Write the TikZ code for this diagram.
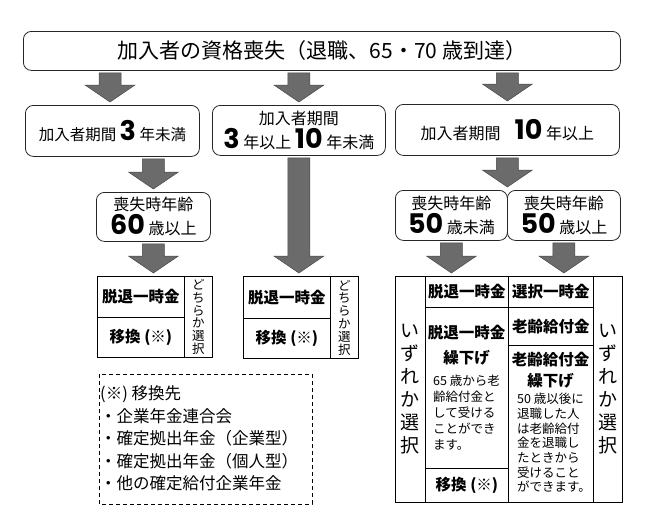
\documentclass[tikz,border=0pt]{standalone}
\usepackage{fontspec}
\setmainfont{Noto Sans CJK JP}
\newfontfamily\numfont{Poppins}
\usetikzlibrary{calc}
\newcommand\fs[2]{\fontsize{#1}{#2}\selectfont}
\newcommand\num[1]{{\numfont\bfseries\fs{27}{27}#1}}
\tikzset{
  rbox/.style={draw=black!85, line width=0.8pt, rounded corners=8pt, inner sep=0pt, anchor=north west, align=center},
  cell/.style={draw=black, line width=0.9pt, inner sep=0pt, anchor=north west, align=center},
  arrowfill/.style={fill=black!58, draw=black!72, line width=0.5pt},
  lbl/.style={inner sep=0pt, font=\bfseries\fs{15.5}{18}},
  small/.style={inner sep=0pt, align=left, anchor=west},
  vert/.style={inner sep=0pt, align=center},
}
\newcommand\fatarrow[2]{%
  \filldraw[arrowfill] let \p1=#1, \p2=#2 in
    (\x2-11pt,\y1-2pt) -- (\x2+11pt,\y1-2pt) -- (\x2+11pt,\y2+20pt) -- (\x2+25pt,\y2+20pt)
    -- (\x2,\y2+3pt) -- (\x2-25pt,\y2+20pt) -- (\x2-11pt,\y2+20pt) -- cycle;}
\begin{document}
\begin{tikzpicture}[x=1pt, y=-1pt]
\useasboundingbox (0,0) rectangle (650,528);

% top box
\node[rbox, minimum width=597pt, minimum height=39pt, font=\fs{21}{22}] (top) at (23,31)
  {加入者の資格喪失（退職、65・70 歳到達）};

% second row
\node[rbox, minimum width=174pt, minimum height=51pt, font=\fs{15.5}{18}] (A) at (25,105)
  {加入者期間 \num{3} 年未満};
\node[rbox, minimum width=173pt, minimum height=50pt, font=\fs{16}{24}] (B) at (212,105)
  {加入者期間\\\num{3} 年以上 \num{10} 年未満};
\node[rbox, minimum width=224pt, minimum height=51pt, font=\fs{16}{18}] (C) at (395,104)
  {加入者期間\hspace{14pt}\num{10} 年以上};

% third row
\node[rbox, minimum width=114pt, minimum height=49pt, font=\fs{16}{24}] (S60) at (96,192)
  {喪失時年齢\\\num{60} 歳以上};
\node[rbox, minimum width=112pt, minimum height=50pt, font=\fs{16}{24}] (S50a) at (395,190)
  {喪失時年齢\\\num{50} 歳未満};
\node[rbox, minimum width=113pt, minimum height=50pt, font=\fs{16}{24}] (S50b) at (507,190)
  {喪失時年齢\\\num{50} 歳以上};

% table 1
\node[cell, minimum width=87pt, minimum height=41pt, font=\bfseries\fs{15.5}{18}] (t1a) at (97,276) {脱退一時金};
\node[cell, minimum width=87pt, minimum height=40pt, font=\bfseries\fs{15.5}{18}] (t1b) at (97,317) {移換 (※)};
\node[cell, minimum width=28pt, minimum height=81pt] (t1v) at (184,276) {};
\node[vert, font=\fs{12.5}{12.8}] at (t1v.center) {ど\\ち\\ら\\か\\選\\択};

% table 2
\node[cell, minimum width=87pt, minimum height=42pt, font=\bfseries\fs{15.5}{18}] (t2a) at (243,276) {脱退一時金};
\node[cell, minimum width=87pt, minimum height=40pt, font=\bfseries\fs{15.5}{18}] (t2b) at (243,318) {移換 (※)};
\node[cell, minimum width=28pt, minimum height=82pt] (t2v) at (330,276) {};
\node[vert, font=\fs{12.5}{12.8}] at (t2v.center) {ど\\ち\\ら\\か\\選\\択};

% right table
\node[cell, minimum width=30pt, minimum height=226pt] (rL) at (395,276) {};
\node[cell, minimum width=29pt, minimum height=226pt] (rR) at (593,276) {};
\node[vert, font=\fs{19}{23}] at (rL.center) {い\\ず\\れ\\か\\選\\択};
\node[vert, font=\fs{19}{23}] at (rR.center) {い\\ず\\れ\\か\\選\\択};
\node[cell, minimum width=83pt, minimum height=31pt, font=\bfseries\fs{15.5}{18}] (c1) at (425,276) {脱退一時金};
\node[cell, minimum width=85pt, minimum height=31pt, font=\bfseries\fs{15.5}{18}] (c2) at (508,276) {選択一時金};
\node[cell, minimum width=83pt, minimum height=161pt] (c3) at (425,307) {};
\node[cell, minimum width=83pt, minimum height=34pt, font=\bfseries\fs{15.5}{18}] (c4) at (425,468) {移換 (※)};
\node[cell, minimum width=85pt, minimum height=38pt, font=\bfseries\fs{15.5}{18}] (c5) at (508,307) {老齢給付金};
\node[cell, minimum width=85pt, minimum height=157pt] (c6) at (508,345) {};

\node[lbl] at (466.5,333) {脱退一時金};
\node[lbl] at (466.5,358) {繰下げ};
\node[small, font=\fs{12.5}{16}] at (433,413) {65 歳から老\\齢給付金と\\して受ける\\ことができ\\ます。};

\node[lbl] at (550.5,360) {老齢給付金};
\node[lbl] at (550.5,381) {繰下げ};
\node[small, font=\fs{12.5}{14.7}] at (517,443) {50 歳以後に\\退職した人\\は老齢給付\\金を退職し\\たときから\\受けること\\ができます。};

% footnote box
\draw[line width=0.8pt, dash pattern=on 4pt off 3pt] (99,374) rectangle (312,504);
\node[small, font=\fs{16.5}{22.5}] (note) at (100,438.5)
  {(※) 移換先\\・企業年金連合会\\・確定拠出年金（企業型）\\・確定拠出年金（個人型）\\・他の確定給付企業年金};

% arrows
\fatarrow{(top.south)}{(110,105)}
\fatarrow{(top.south)}{(B.north)}
\fatarrow{(top.south)}{(C.north)}
\fatarrow{(A.south)}{(S60.north)}
\fatarrow{(B.south)}{(B.south |- t2a.north)}
\fatarrow{(C.south)}{(C.south |- S50a.north)}
\fatarrow{(S60.south)}{(S60.south |- t1a.north)}
\fatarrow{(S50a.south)}{(S50a.south |- c1.north)}
\fatarrow{(S50b.south)}{(S50b.south |- c2.north)}
\end{tikzpicture}
\end{document}
